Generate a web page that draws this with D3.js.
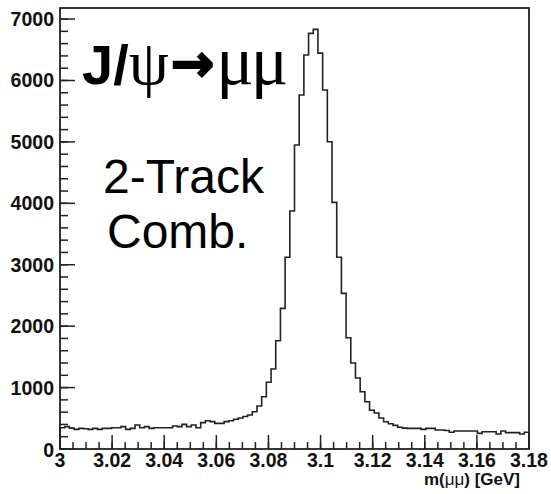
<!DOCTYPE html>
<html>
<head>
<meta charset="utf-8">
<script src="https://cdn.jsdelivr.net/npm/d3@7"></script>
<style>
  body { margin: 0; background: #fff; }
  svg { display: block; }
</style>
</head>
<body>
<svg id="chart" width="551" height="494"></svg>
<script>
// histogram: 100 bins, 3.00 - 3.18 GeV
var xMin = 3.0, xMax = 3.18, nBins = 100;
var counts = [
  347, 364, 340, 320, 336, 330, 320, 336, 320, 336,
  336, 347, 347, 364, 320, 336, 391, 347, 364, 336,
  347, 347, 347, 347, 374, 364, 401, 364, 391, 347,
  429, 461, 445, 418, 418, 445, 461, 485, 505, 530,
  553, 607, 700, 851, 1086, 1302, 1763, 2290, 3121, 3874,
  4949, 5763, 6414, 6767, 6832, 6446, 5844, 5003, 4016, 3121,
  2534, 1812, 1400, 1155, 933, 770, 630, 585, 505, 444,
  410, 385, 355, 340, 336, 336, 336, 320, 336, 336,
  309, 309, 300, 272, 293, 293, 293, 293, 293, 255,
  282, 282, 282, 244, 293, 266, 266, 266, 244, 272
];
var xTicks = [3, 3.02, 3.04, 3.06, 3.08, 3.1, 3.12, 3.14, 3.16, 3.18];
var yTicks = [0, 1000, 2000, 3000, 4000, 5000, 6000, 7000];
var yMax = 7180;

var svg = d3.select("#chart");
var frameL = 60, frameR = 529, frameT = 8, frameB = 449;

var x = d3.scaleLinear().domain([xMin, xMax]).range([frameL, frameR]);
var y = d3.scaleLinear().domain([0, yMax]).range([frameB, frameT]);
var binW = (xMax - xMin) / nBins;

// minor ticks
var xMinor = d3.range(0, 37).map(function (i) { return xMin + i * 0.005; });
var yMinor = d3.range(0, 36).map(function (i) { return i * 200; });

var tickColor = "#222";

svg.selectAll("line.xminor")
  .data(xMinor)
  .enter().append("line")
  .attr("x1", function (d) { return x(d); })
  .attr("x2", function (d) { return x(d); })
  .attr("y1", frameB).attr("y2", frameB - 7)
  .attr("stroke", tickColor).attr("stroke-width", 1.5);

svg.selectAll("line.xmajor")
  .data(xTicks)
  .enter().append("line")
  .attr("x1", function (d) { return x(d); })
  .attr("x2", function (d) { return x(d); })
  .attr("y1", frameB).attr("y2", frameB - 14)
  .attr("stroke", tickColor).attr("stroke-width", 1.5);

svg.selectAll("line.yminor")
  .data(yMinor.filter(function (d) { return d <= yMax; }))
  .enter().append("line")
  .attr("x1", frameL).attr("x2", frameL + 8)
  .attr("y1", function (d) { return y(d); })
  .attr("y2", function (d) { return y(d); })
  .attr("stroke", tickColor).attr("stroke-width", 1.5);

svg.selectAll("line.ymajor")
  .data(yTicks)
  .enter().append("line")
  .attr("x1", frameL).attr("x2", frameL + 15)
  .attr("y1", function (d) { return y(d); })
  .attr("y2", function (d) { return y(d); })
  .attr("stroke", tickColor).attr("stroke-width", 1.5);

// histogram outline
var pts = [[x(xMin), y(0)]];
counts.forEach(function (c, i) {
  pts.push([x(xMin + i * binW), y(c)]);
  pts.push([x(xMin + (i + 1) * binW), y(c)]);
});
pts.push([x(xMax), y(0)]);

svg.append("path")
  .attr("d", d3.line()(pts))
  .attr("fill", "none")
  .attr("stroke", "#222")
  .attr("stroke-width", 1.6);

// frame
svg.append("rect")
  .attr("x", frameL).attr("y", frameT)
  .attr("width", frameR - frameL).attr("height", frameB - frameT)
  .attr("fill", "none")
  .attr("stroke", "#222")
  .attr("stroke-width", 1.8);

// tick labels
var labelFont = "'Liberation Sans', Arial, sans-serif";
svg.selectAll("text.ylab")
  .data(yTicks)
  .enter().append("text")
  .attr("x", frameL - 6)
  .attr("y", function (d) { return y(d) + (d === 0 ? 1 : 0); })
  .attr("dy", "0.36em")
  .attr("text-anchor", "end")
  .style("font-family", labelFont)
  .style("font-weight", "bold")
  .style("font-size", "19.5px")
  .attr("fill", "#111")
  .text(function (d) { return d; });

svg.selectAll("text.xlab")
  .data(xTicks)
  .enter().append("text")
  .attr("x", function (d) { return x(d); })
  .attr("y", 467)
  .attr("text-anchor", "middle")
  .style("font-family", labelFont)
  .style("font-weight", "bold")
  .style("font-size", "19.5px")
  .attr("fill", "#111")
  .text(function (d) { return d3.format("")(d); });

// axis title
var xt = svg.append("text")
  .attr("x", 520).attr("y", 485)
  .attr("text-anchor", "end")
  .style("font-family", labelFont)
  .style("font-weight", "bold")
  .style("font-size", "17px")
  .attr("fill", "#111");
xt.append("tspan").text("m(");
xt.append("tspan").style("font-weight", "normal").text("μμ");
xt.append("tspan").text(") [GeV]");

// annotations
var serif = "'Liberation Serif', 'Times New Roman', serif";
var t1 = svg.append("text")
  .attr("x", 82).attr("y", 84)
  .style("font-size", "56px")
  .attr("fill", "#000");
t1.append("tspan").style("font-family", labelFont).style("font-weight", "bold").text("J/");
t1.append("tspan").style("font-family", serif).style("font-size", "64px").text("ψ");
t1.append("tspan").attr("dx", 2).attr("dy", -3)
  .style("font-family", "'DejaVu Sans', sans-serif").style("font-weight", "bold")
  .style("font-size", "52px")
  .attr("stroke", "#000").attr("stroke-width", 2)
  .text("→");
t1.append("tspan").attr("dx", 2).attr("dy", 3)
  .style("font-family", serif).style("font-size", "70px")
  .attr("letter-spacing", "-3")
  .text("μμ");

svg.append("text")
  .attr("x", 103).attr("y", 193)
  .style("font-family", labelFont)
  .style("font-size", "48px")
  .attr("fill", "#000")
  .text("2-Track");

svg.append("text")
  .attr("x", 107).attr("y", 248)
  .style("font-family", labelFont)
  .style("font-size", "48px")
  .attr("fill", "#000")
  .text("Comb.");
</script>
</body>
</html>
